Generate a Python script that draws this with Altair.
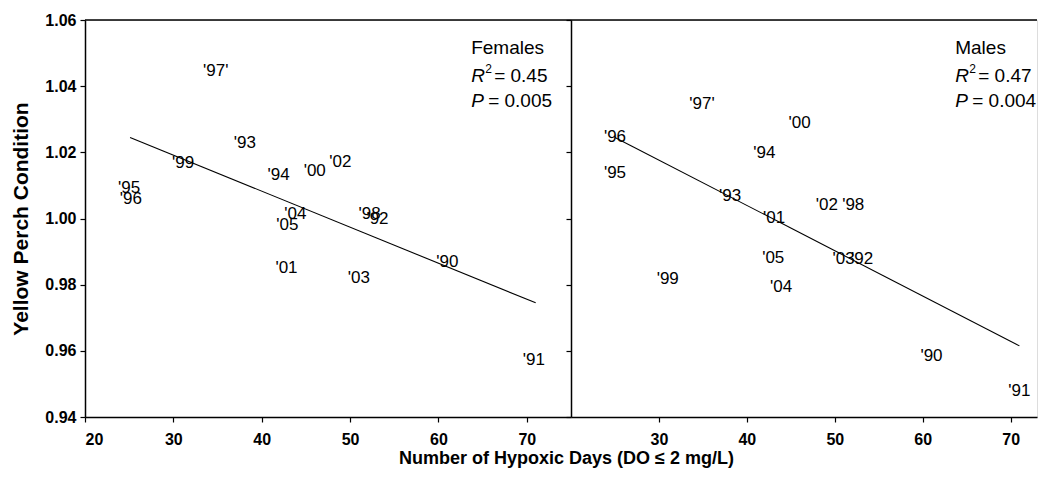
import altair as alt
import pandas as pd

FONT = "Liberation Sans"

years = ["'90", "'91", "'92", "'93", "'94", "'95", "'96", "'97'",
         "'98", "'99", "'00", "'01", "'02", "'03", "'04", "'05"]

# Females
f_days = [61.0, 70.8, 53.1, 38.1, 41.9, 25.0, 25.2, 34.8,
          52.2, 31.1, 46.0, 42.8, 48.9, 51.0, 43.8, 42.9]
f_cond = [0.987, 0.9573, 1.000, 1.0227, 1.013, 1.0092, 1.0060, 1.0445,
          1.0013, 1.0167, 1.0145, 0.9849, 1.0170, 0.9819, 1.0013, 0.9979]
f_fit_days = [25.1, 71.0]
f_fit_cond = [1.0245, 0.9745]

# Males
m_days = [61.0, 71.0, 53.1, 38.1, 42.0, 25.0, 25.0, 34.9,
          52.1, 31.0, 46.0, 43.1, 49.1, 51.0, 43.9, 43.0]
m_cond = [0.9585, 0.9479, 0.9879, 1.0067, 1.0197, 1.0139, 1.0245, 1.0345,
          1.0042, 0.9818, 1.0288, 1.0003, 1.0042, 0.9879, 0.9794, 0.9882]
m_fit_days = [25.0, 71.0]
m_fit_cond = [1.0245, 0.9615]

y_ticks = [0.94, 0.96, 0.98, 1.00, 1.02, 1.04, 1.06]
left_x_ticks = [20, 30, 40, 50, 60, 70]
right_x_ticks = [30, 40, 50, 60, 70]

x_title = "Number of Hypoxic Days (DO \u2264 2 mg/L)"
y_title = "Yellow Perch Condition"

ann_x = 63.7
ann_rows = [1.0515, 1.0431, 1.0355]


def panel(days, cond, fit_days, fit_cond, xmax, width, name, r2, p, x_ticks, left):
    pts = pd.DataFrame({"days": days, "cond": cond, "year": years})
    fit = pd.DataFrame({"days": fit_days, "cond": fit_cond})
    xscale = alt.Scale(domain=[20, xmax], nice=False, zero=False)
    yscale = alt.Scale(domain=[0.94, 1.06], nice=False, zero=False)
    common = dict(grid=False, labelFont=FONT, labelFontSize=16, labelFontWeight="bold",
                  labelColor="black", domainColor="black", domainWidth=1.5,
                  tickColor="black", tickSize=5, tickWidth=1.2)
    if left:
        xaxis = alt.Axis(values=x_ticks, title=x_title, titleFont=FONT, titleFontSize=18,
                         titleFontWeight="bold", titleColor="black", titleX=481, titleY=46,
                         titleAlign="center", titleBaseline="alphabetic", titleAnchor="start",
                         labelPadding=9, **common)
        yaxis = alt.Axis(values=y_ticks, format=".2f", title=y_title,
                         titleFont=FONT, titleFontSize=21, titleFontWeight="bold",
                         titleColor="black", titlePadding=13, labelPadding=4, **common)
    else:
        xaxis = alt.Axis(values=x_ticks, title=None, labelPadding=9, **common)
        yaxis = alt.Axis(values=y_ticks, title=None, labels=False, grid=False,
                         domainColor="black", domainWidth=1.5, tickColor="black",
                         tickSize=5, tickWidth=1.2)
    X = alt.X("days:Q", scale=xscale, axis=xaxis)
    Y = alt.Y("cond:Q", scale=yscale, axis=yaxis)

    labels = alt.Chart(pts).mark_text(font=FONT, fontSize=17, color="black",
                                      baseline="middle", align="center").encode(
        x=X, y=Y, text="year:N")
    line = alt.Chart(fit).mark_line(color="black", strokeWidth=1.1).encode(x=X, y=Y)
    top = alt.Chart(pd.DataFrame({"a": [0]})).mark_rule(color="black", strokeWidth=1.5).encode(
        x=alt.value(0), x2=alt.value(width), y=alt.value(0))

    ann_name = pd.DataFrame({"days": [ann_x], "cond": [ann_rows[0]], "t": [name]})
    ann_it = pd.DataFrame({"days": [ann_x, ann_x], "cond": [ann_rows[1], ann_rows[2]],
                           "t": ["R", "P"]})
    ann_sup = pd.DataFrame({"days": [ann_x], "cond": [ann_rows[1]], "t": ["2"]})
    ann_r2 = pd.DataFrame({"days": [ann_x], "cond": [ann_rows[1]], "t": ["= " + r2]})
    ann_p = pd.DataFrame({"days": [ann_x], "cond": [ann_rows[2]], "t": ["= " + p]})
    tkw = dict(font=FONT, fontSize=19, color="black", baseline="middle", align="left")
    a1 = alt.Chart(ann_name).mark_text(**tkw).encode(x=X, y=Y, text="t:N")
    a2 = alt.Chart(ann_it).mark_text(fontStyle="italic", **tkw).encode(x=X, y=Y, text="t:N")
    a3 = alt.Chart(ann_sup).mark_text(font=FONT, fontSize=12, color="black", baseline="middle",
                                      align="left", dx=14, dy=-7).encode(x=X, y=Y, text="t:N")
    a4 = alt.Chart(ann_r2).mark_text(dx=23, **tkw).encode(x=X, y=Y, text="t:N")
    a5 = alt.Chart(ann_p).mark_text(dx=17, **tkw).encode(x=X, y=Y, text="t:N")

    return alt.layer(labels, line, top, a1, a2, a3, a4, a5).properties(width=width, height=397)


left = panel(f_days, f_cond, f_fit_days, f_fit_cond, 75, 486, "Females", "0.45", "0.005",
             left_x_ticks, True)
right = panel(m_days, m_cond, m_fit_days, m_fit_cond, 73, 466, "Males", "0.47", "0.004",
              right_x_ticks, False)

chart = alt.hconcat(left, right, spacing=0, bounds="flush").properties(
    padding={"left": 2, "top": 3, "right": 0, "bottom": 5},
).configure_view(stroke=None).configure(background="white")

chart.save("out.html", embed_options={"renderer": "svg", "actions": False})
